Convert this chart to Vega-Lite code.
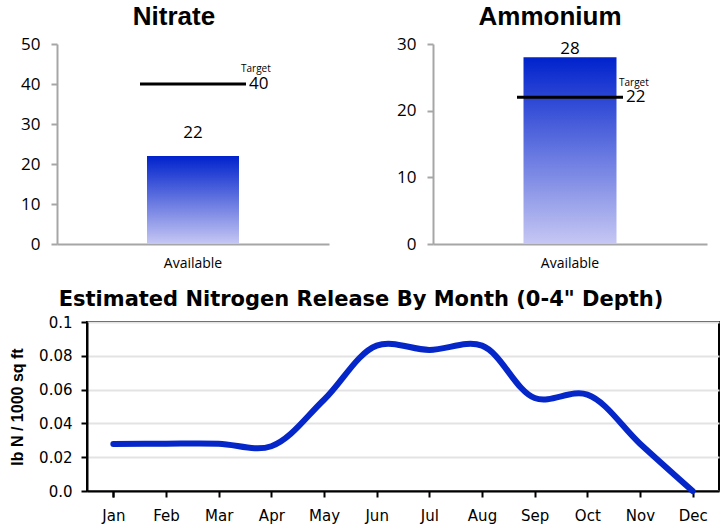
{
  "$schema": "https://vega.github.io/schema/vega-lite/v6.json",
  "padding": {"left": 8, "top": 4, "right": 4, "bottom": 4},
  "config": {"view": {"stroke": null}, "font": "Open Sans", "axis": {"labelOverlap": false}},
  "bounds": "flush",
  "spacing": 278,
  "vconcat": [
    {
      "bounds": "flush",
      "spacing": 104,
      "hconcat": [
        {
          "width": 272,
          "height": 200,
          "title": {"text": "Nitrate", "font": "Liberation Sans", "fontSize": 26, "fontWeight": "bold", "frame": "group", "anchor": "middle", "dx": -19, "offset": 5, "color": "black"},
          "data": {"values": [{"category": "Available", "value": 22, "target": 40, "label": "Target"}]},
          "encoding": {
            "x": {"field": "category", "type": "nominal", "scale": {"paddingInner": 0, "paddingOuter": 0},
              "axis": {"title": null, "labelAngle": 0, "labelFont": "Open Sans", "labelFontSize": 14, "labelColor": "black", "ticks": false, "labelPadding": 12, "domainColor": "#a6a6a6", "domainWidth": 2}}
          },
          "layer": [
            {
              "mark": {"type": "bar", "width": 92, "color": {"gradient": "linear", "x1": 0, "y1": 0, "x2": 0, "y2": 1, "stops": [{"offset": 0, "color": "#0022cc"}, {"offset": 1, "color": "#c6c7f3"}]}},
              "encoding": {"y": {"field": "value", "type": "quantitative", "scale": {"domain": [0, 50]},
                "axis": {"title": null, "values": [0, 10, 20, 30, 40, 50], "tickCount": 6, "labelOverlap": false, "grid": false, "domainColor": "#a6a6a6", "domainWidth": 2, "tickColor": "#a6a6a6", "tickWidth": 2, "tickSize": 6, "labelFont": "Open Sans", "labelFontSize": 17, "labelColor": "black", "labelPadding": 11}}}
            },
            {
              "mark": {"type": "text", "dy": -23, "fontSize": 17, "font": "Open Sans", "color": "black"},
              "encoding": {"y": {"field": "value", "type": "quantitative",
                "axis": {"title": null, "values": [0, 10, 20, 30, 40, 50], "tickCount": 6, "labelOverlap": false, "grid": false, "domainColor": "#a6a6a6", "domainWidth": 2, "tickColor": "#a6a6a6", "tickWidth": 2, "tickSize": 6, "labelFont": "Open Sans", "labelFontSize": 17, "labelColor": "black", "labelPadding": 11}}, "text": {"field": "value"}}
            },
            {
              "mark": {"type": "tick", "size": 106, "thickness": 3, "color": "black", "opacity": 1, "orient": "horizontal"},
              "encoding": {"y": {"field": "target", "type": "quantitative",
                "axis": {"title": null, "values": [0, 10, 20, 30, 40, 50], "tickCount": 6, "labelOverlap": false, "grid": false, "domainColor": "#a6a6a6", "domainWidth": 2, "tickColor": "#a6a6a6", "tickWidth": 2, "tickSize": 6, "labelFont": "Open Sans", "labelFontSize": 17, "labelColor": "black", "labelPadding": 11}}}
            },
            {
              "mark": {"type": "text", "align": "left", "dx": 56, "fontSize": 17, "font": "Open Sans", "color": "black"},
              "encoding": {"y": {"field": "target", "type": "quantitative",
                "axis": {"title": null, "values": [0, 10, 20, 30, 40, 50], "tickCount": 6, "labelOverlap": false, "grid": false, "domainColor": "#a6a6a6", "domainWidth": 2, "tickColor": "#a6a6a6", "tickWidth": 2, "tickSize": 6, "labelFont": "Open Sans", "labelFontSize": 17, "labelColor": "black", "labelPadding": 11}}, "text": {"field": "target"}}
            },
            {
              "mark": {"type": "text", "align": "left", "dx": 48, "dy": -15, "fontSize": 10, "font": "Open Sans", "color": "black"},
              "encoding": {"y": {"field": "target", "type": "quantitative",
                "axis": {"title": null, "values": [0, 10, 20, 30, 40, 50], "tickCount": 6, "labelOverlap": false, "grid": false, "domainColor": "#a6a6a6", "domainWidth": 2, "tickColor": "#a6a6a6", "tickWidth": 2, "tickSize": 6, "labelFont": "Open Sans", "labelFontSize": 17, "labelColor": "black", "labelPadding": 11}}, "text": {"field": "label"}}
            }
          ]
        },
        {
          "width": 274,
          "height": 200,
          "title": {"text": "Ammonium", "font": "Liberation Sans", "fontSize": 26, "fontWeight": "bold", "frame": "group", "anchor": "middle", "dx": -20, "offset": 5, "color": "black"},
          "data": {"values": [{"category": "Available", "value": 28, "target": 22, "label": "Target"}]},
          "encoding": {
            "x": {"field": "category", "type": "nominal", "scale": {"paddingInner": 0, "paddingOuter": 0},
              "axis": {"title": null, "labelAngle": 0, "labelFont": "Open Sans", "labelFontSize": 14, "labelColor": "black", "ticks": false, "labelPadding": 12, "domainColor": "#a6a6a6", "domainWidth": 2}}
          },
          "layer": [
            {
              "mark": {"type": "bar", "width": 93, "color": {"gradient": "linear", "x1": 0, "y1": 0, "x2": 0, "y2": 1, "stops": [{"offset": 0, "color": "#0022cc"}, {"offset": 1, "color": "#c6c7f3"}]}},
              "encoding": {"y": {"field": "value", "type": "quantitative", "scale": {"domain": [0, 30]},
                "axis": {"title": null, "values": [0, 10, 20, 30], "tickCount": 4, "labelOverlap": false, "grid": false, "domainColor": "#a6a6a6", "domainWidth": 2, "tickColor": "#a6a6a6", "tickWidth": 2, "tickSize": 6, "labelFont": "Open Sans", "labelFontSize": 17, "labelColor": "black", "labelPadding": 11}}}
            },
            {
              "mark": {"type": "text", "dy": -8, "fontSize": 17, "font": "Open Sans", "color": "black"},
              "encoding": {"y": {"field": "value", "type": "quantitative",
                "axis": {"title": null, "values": [0, 10, 20, 30], "tickCount": 4, "labelOverlap": false, "grid": false, "domainColor": "#a6a6a6", "domainWidth": 2, "tickColor": "#a6a6a6", "tickWidth": 2, "tickSize": 6, "labelFont": "Open Sans", "labelFontSize": 17, "labelColor": "black", "labelPadding": 11}}, "text": {"field": "value"}}
            },
            {
              "mark": {"type": "tick", "size": 106, "thickness": 3, "color": "black", "opacity": 1, "orient": "horizontal"},
              "encoding": {"y": {"field": "target", "type": "quantitative",
                "axis": {"title": null, "values": [0, 10, 20, 30], "tickCount": 4, "labelOverlap": false, "grid": false, "domainColor": "#a6a6a6", "domainWidth": 2, "tickColor": "#a6a6a6", "tickWidth": 2, "tickSize": 6, "labelFont": "Open Sans", "labelFontSize": 17, "labelColor": "black", "labelPadding": 11}}}
            },
            {
              "mark": {"type": "text", "align": "left", "dx": 56, "fontSize": 17, "font": "Open Sans", "color": "black"},
              "encoding": {"y": {"field": "target", "type": "quantitative",
                "axis": {"title": null, "values": [0, 10, 20, 30], "tickCount": 4, "labelOverlap": false, "grid": false, "domainColor": "#a6a6a6", "domainWidth": 2, "tickColor": "#a6a6a6", "tickWidth": 2, "tickSize": 6, "labelFont": "Open Sans", "labelFontSize": 17, "labelColor": "black", "labelPadding": 11}}, "text": {"field": "target"}}
            },
            {
              "mark": {"type": "text", "align": "left", "dx": 49, "dy": -14, "fontSize": 10, "font": "Open Sans", "color": "black"},
              "encoding": {"y": {"field": "target", "type": "quantitative",
                "axis": {"title": null, "values": [0, 10, 20, 30], "tickCount": 4, "labelOverlap": false, "grid": false, "domainColor": "#a6a6a6", "domainWidth": 2, "tickColor": "#a6a6a6", "tickWidth": 2, "tickSize": 6, "labelFont": "Open Sans", "labelFontSize": 17, "labelColor": "black", "labelPadding": 11}}, "text": {"field": "label"}}
            }
          ]
        }
      ]
    },
    {
      "bounds": "flush",
      "spacing": 29,
      "hconcat": [
        {
          "width": 1,
          "height": 1,
          "data": {"values": []},
          "mark": "point"
        },
        {
          "width": 632,
          "height": 169,
          "view": {"stroke": "black", "strokeWidth": 2},
          "title": {"text": "Estimated Nitrogen Release By Month (0-4\" Depth)", "font": "DejaVu Sans", "fontSize": 21, "fontWeight": "bold", "frame": "group", "anchor": "middle", "dx": -42, "offset": 5, "color": "black"},
          "data": {"values": [
            {"month": "Jan", "release": 0.0278},
            {"month": "Feb", "release": 0.028},
            {"month": "Mar", "release": 0.028},
            {"month": "Apr", "release": 0.0265},
            {"month": "May", "release": 0.054},
            {"month": "Jun", "release": 0.086},
            {"month": "Jul", "release": 0.0835},
            {"month": "Aug", "release": 0.086},
            {"month": "Sep", "release": 0.055},
            {"month": "Oct", "release": 0.057},
            {"month": "Nov", "release": 0.028},
            {"month": "Dec", "release": 0.0}
          ]},
          "mark": {"type": "line", "interpolate": "catmull-rom", "strokeWidth": 6, "color": "#0526c8", "strokeCap": "round", "strokeJoin": "round"},
          "encoding": {
            "x": {"field": "month", "type": "ordinal", "sort": null, "scale": {"type": "point", "padding": 0.5},
              "axis": {"title": null, "labelAngle": 0, "labelFont": "DejaVu Sans", "labelFontSize": 15, "labelColor": "black", "tickColor": "black", "tickWidth": 2, "tickSize": 6, "tickBand": "extent", "labelPadding": 11, "domainColor": "black", "domainWidth": 2, "grid": false}},
            "y": {"field": "release", "type": "quantitative", "scale": {"domain": [0, 0.1]},
              "axis": {"title": "lb N / 1000 sq ft", "titleFont": "Liberation Sans", "titleFontSize": 16, "titleFontWeight": "bold", "titleColor": "black", "titlePadding": 13,
                "values": [0, 0.02, 0.04, 0.06, 0.08, 0.1], "labelOverlap": false, "labelExpr": "datum.value == 0 ? '0.0' : datum.value == 0.1 ? '0.1' : format(datum.value, '.2f')",
                "labelFont": "DejaVu Sans", "labelFontSize": 15, "labelColor": "black", "tickColor": "black", "tickWidth": 2, "tickSize": 6, "labelPadding": 9,
                "domainColor": "black", "domainWidth": 2, "grid": true, "gridColor": "#e3e3e3", "gridWidth": 2}}
          }
        }
      ]
    }
  ]
}
